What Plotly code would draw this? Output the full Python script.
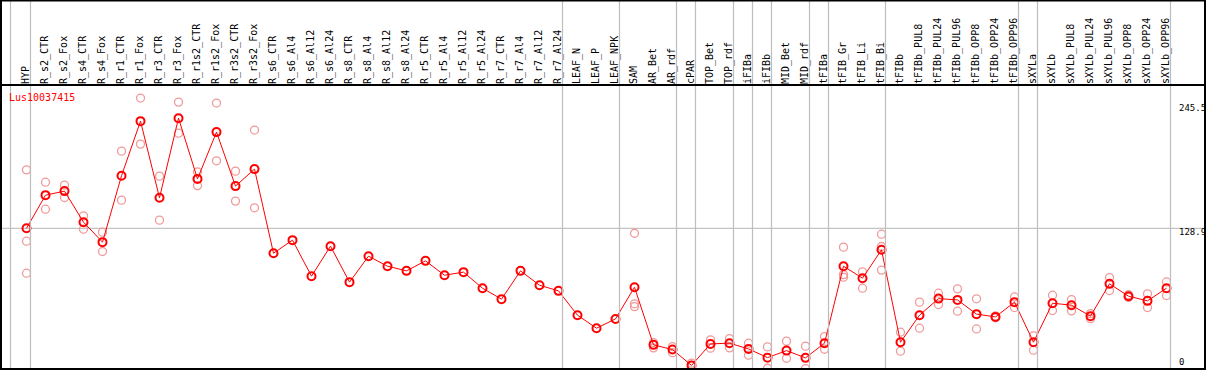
import plotly.graph_objects as go

categories = ["HYP", "R_s2_CTR", "R_s2_Fox", "R_s4_CTR", "R_s4_Fox", "R_r1_CTR", "R_r1_Fox",
              "R_r3_CTR", "R_r3_Fox", "R_r1s2_CTR", "R_r1s2_Fox", "R_r3s2_CTR", "R_r3s2_Fox",
              "R_s6_CTR", "R_s6_Al4", "R_s6_Al12", "R_s6_Al24", "R_s8_CTR", "R_s8_Al4", "R_s8_Al12",
              "R_s8_Al24", "R_r5_CTR", "R_r5_Al4", "R_r5_Al12", "R_r5_Al24", "R_r7_CTR", "R_r7_Al4",
              "R_r7_Al12", "R_r7_Al24", "LEAF_N", "LEAF_P", "LEAF_NPK", "SAM", "AR_Bet", "AR_rdf",
              "cPAR", "TOP_Bet", "TOP_rdf", "iFIBa", "iFIBb", "MID_Bet", "MID_rdf", "tFIBa",
              "tFIB_Gr", "tFIB_Li", "tFIB_Bi", "tFIBb", "tFIBb_PUL8", "tFIBb_PUL24", "tFIBb_PUL96",
              "tFIBb_OPP8", "tFIBb_OPP24", "tFIBb_OPP96", "sXYLa", "sXYLb", "sXYLb_PUL8",
              "sXYLb_PUL24", "sXYLb_PUL96", "sXYLb_OPP8", "sXYLb_OPP24", "sXYLb_OPP96"]

mean_values = [128.9, 160.1, 163.9, 134.7, 115.9, 178.3, 229.7, 157.6, 232.5, 175.4, 219.4, 168.6, 184.6,
               105.5, 117.8, 83.9, 112.1, 78.3, 102.7, 93.3, 88.9, 98.3, 84.8, 87.7, 72.6, 62.3, 88.9,
               75.4, 70.1, 47.2, 35.0, 43.7, 73.5, 19.3, 14.9, 0.0, 20.2, 20.9, 15.5, 7.3, 13.9, 7.1,
               20.9, 93.3, 82.0, 108.7, 21.8, 47.2, 62.8, 61.6, 48.2, 45.6, 59.5, 21.8, 58.5, 56.6,
               46.3, 76.7, 65.1, 60.7, 72.6]

N = None
rep_a = [183.9, 172.3, 169.5, 140.6, 125.3, 201.5, 251.4, 178.0, 247.6, 182.0, 246.7, 182.7, 221.3,
         N, N, N, N, N, N, N, N, N, N, N, N, N, N, N, N, N, N, N,
         124.3, 21.5, 17.7, 2.1, 24.0, 25.2, 20.9, 17.4, 22.8, 18.1, 27.1, 111.2, 88.0, 123.4,
         31.2, 59.5, 67.9, 72.0, 62.6, 46.5, 64.4, 27.8, 66.0, 61.9, 48.7, 82.6, 66.5, 67.3, 78.5]
rep_b = [116.8, 146.9, 157.9, 128.1, 107.1, 155.4, 208.1, 136.6, 218.4, 169.1, 192.4, 154.5, 148.2,
         N, N, N, N, N, N, N, N, N, N, N, N, N, N, N, N, N, N, N,
         57.9, 16.5, 12.0, N, 16.2, 16.5, 9.6, -2.7, 6.7, -3.0, 15.2, 85.4, 72.6, 111.8,
         13.4, 35.0, 57.2, 51.0, 34.3, 44.8, 54.4, 14.3, 51.6, 51.3, 44.0, 70.4, 64.0, 54.4, 65.7]
rep_c = [86.7, N, N, N, N, N, N, N, N, N, N, N, N,
         N, N, N, N, N, N, N, N, N, N, N, N, N, N, N, N, N, N, N,
         55.3, N, N, N, N, N, N, N, N, N, N, 83.0, N, 89.6,
         N, N, N, N, N, N, N, N, N, N, N, N, N, N, N]

separators = [-1.052, 0, 28, 31, 34, 35, 37, 38, 39, 41, 42, 45, 52, 53, 60]
y_labels = [245.5, 128.9, 0]

x_idx = list(range(len(categories)))
MONO = "DejaVu Sans Mono"

fig = go.Figure()
for reps in (rep_a, rep_b, rep_c):
    fig.add_trace(go.Scatter(
        x=x_idx, y=reps, mode="markers", showlegend=False, hoverinfo="skip",
        marker=dict(symbol="circle-open", size=8, color="#F09A9A", line=dict(width=1.3, color="#F09A9A")),
    ))
fig.add_trace(go.Scatter(
    x=x_idx, y=mean_values, mode="lines+markers", showlegend=False,
    line=dict(color="#FF0000", width=1),
    marker=dict(symbol="circle-open", size=8, color="#FF0000", line=dict(width=2, color="#FF0000")),
))

x0, x1 = -1.342, -1.342 + 1204 / 19
y0, y1 = -3.39, 263.7
TOPF = 85 / 284.0
PXW = 1.0 / 1204  # one pixel in paper units

shapes = []
for s in separators:
    xs = s + 0.21
    xp = (xs - x0) / (x1 - x0)
    shapes.append(dict(type="rect", xref="paper", yref="paper", x0=xp - 0.6 * PXW, x1=xp + 0.6 * PXW,
                       y0=0, y1=1 + TOPF, fillcolor="#BDBDBD", line=dict(width=0), layer="above"))
shapes.append(dict(type="line", xref="paper", yref="y", x0=0, x1=1, y0=y_labels[1], y1=y_labels[1],
                   line=dict(color="#C4C4C4", width=1.2), layer="below"))
# frame
shapes.append(dict(type="rect", xref="paper", yref="paper", x0=0, x1=1, y0=0, y1=1 + TOPF - 0.002,
                   line=dict(color="black", width=2)))
shapes.append(dict(type="line", xref="paper", yref="paper", x0=0, x1=1, y0=1, y1=1,
                   line=dict(color="black", width=2)))

annotations = [dict(text="Lus10037415", xref="paper", yref="paper", x=6 / 1204, y=(369 - 97.5) / 284,
                    xanchor="left", yanchor="middle", showarrow=False,
                    font=dict(family=MONO, size=10, color="#FF0000"))]
for v in y_labels:
    annotations.append(dict(text=str(v), xref="paper", yref="y", x=(1177 - 1) / 1204, y=v,
                            xanchor="left", yanchor="middle", yshift=(-4 if v > 0 else 3.5),
                            showarrow=False, font=dict(family=MONO, size=9, color="black")))

fig.update_layout(
    width=1209, height=370,
    margin=dict(l=1, r=4, t=85, b=1, pad=0, autoexpand=False),
    paper_bgcolor="white", plot_bgcolor="white",
    shapes=shapes, annotations=annotations,
    xaxis=dict(range=[x0, x1], side="top", tickmode="array", automargin=False,
               tickvals=[i - 0.05 for i in x_idx], ticktext=categories, tickangle=-90,
               tickfont=dict(family=MONO, size=10, color="black"), showgrid=False,
               zeroline=False, showline=False, ticks=""),
    yaxis=dict(range=[y0, y1], showgrid=False, zeroline=False, showticklabels=False,
               showline=False, automargin=False),
)

fig.write_html("out.html", config={"displayModeBar": False},
               post_script="document.body.style.margin='0';document.body.style.overflow='hidden';")
